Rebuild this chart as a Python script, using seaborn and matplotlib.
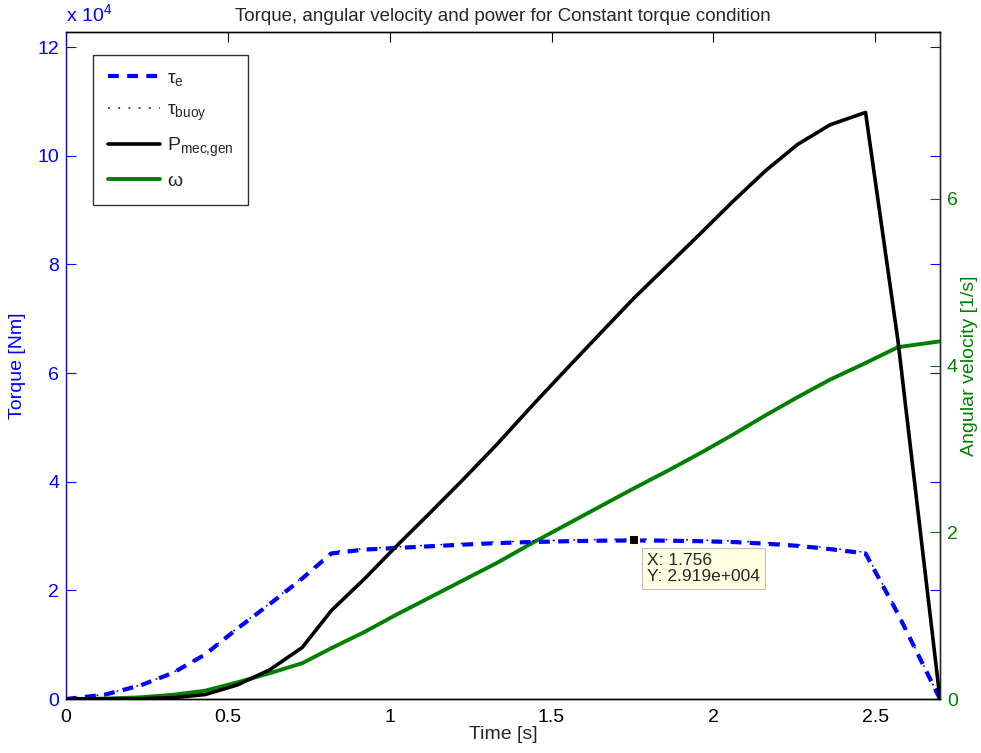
import matplotlib
matplotlib.use("Agg")
import matplotlib.pyplot as plt
import numpy as np
import pandas as pd
import seaborn as sns
from matplotlib.lines import Line2D
from matplotlib.ticker import FuncFormatter

# time samples [s]
time_s = [0, 0.12, 0.23, 0.33, 0.43, 0.53, 0.63, 0.73, 0.82, 0.92, 1.02, 1.12, 1.22, 1.33,
          1.44, 1.55, 1.66, 1.756, 1.86, 1.96, 2.06, 2.16, 2.26, 2.36, 2.47, 2.57, 2.70]
# generator torque and buoy torque [Nm]
tau_e = [0, 800, 2500, 4800, 8200, 13000, 17500, 22200, 26800, 27500, 27800, 28100, 28400, 28700,
         28900, 29050, 29150, 29190, 29150, 29050, 28900, 28600, 28200, 27600, 26800, 15700, 0]
tau_buoy = [0, 850, 2550, 4850, 8300, 13100, 17600, 22400, 27100, 27700, 28000, 28300, 28600, 28900,
            29100, 29250, 29350, 29400, 29350, 29250, 29100, 28800, 28400, 27800, 27000, 15900, 0]
# mechanical power of generator [W]
p_mec = [0, 10, 50, 240, 820, 2600, 5400, 9500, 16300, 22000, 28100, 34000, 40000, 46800,
         54000, 61000, 67900, 73900, 79900, 85700, 91600, 97200, 102100, 105700, 108000, 66000, 0]
# angular velocity [1/s]
omega = [0, 0.005, 0.02, 0.05, 0.1, 0.2, 0.31, 0.43, 0.61, 0.80, 1.01, 1.21, 1.41, 1.63,
         1.87, 2.10, 2.33, 2.53, 2.74, 2.95, 3.17, 3.40, 3.62, 3.83, 4.03, 4.22, 4.29]

tip_x = 1.756
tip_y = 2.919e4

df = pd.DataFrame({"t": time_s, "tau_e": tau_e, "tau_buoy": tau_buoy, "p": p_mec, "w": omega})

sns.set_style("white")
plt.rcParams['font.family'] = ['Liberation Sans', 'DejaVu Sans']
plt.rcParams['mathtext.default'] = 'regular'

blue = (0, 0, 1)
green = (0, 0.5, 0)

fig = plt.figure(figsize=(9.81, 7.53), dpi=100)
ax = fig.add_axes([66 / 981, 54 / 753, 874 / 981, 667 / 753])
ax2 = ax.twinx()

sns.lineplot(data=df, x="t", y="tau_e", ax=ax, color=blue, lw=3, sort=False)
ax.lines[-1].set_dashes((2.6, 2.0))
sns.lineplot(data=df, x="t", y="tau_buoy", ax=ax, color=blue, lw=1.1, sort=False)
ax.lines[-1].set_dashes((1.2, 5.5))
sns.lineplot(data=df, x="t", y="p", ax=ax, color="black", lw=2.6, sort=False)
sns.lineplot(data=df, x="t", y="w", ax=ax2, color=green, lw=2.8, sort=False)

ax.set_xlim(0, 2.7)
ax.set_ylim(0, 12.28e4)
ax2.set_ylim(0, 8)
ax.set_xticks([0, 0.5, 1, 1.5, 2, 2.5])
ax.set_xticklabels(["0", "0.5", "1", "1.5", "2", "2.5"])
ax.set_yticks(np.arange(0, 12.1e4, 2e4))
ax.yaxis.set_major_formatter(FuncFormatter(lambda v, p: f"{v / 1e4:g}"))
ax2.set_yticks([0, 2, 4, 6])

ax.tick_params(axis="x", direction="in", top=True, length=7, labelsize=14, colors="black", pad=7)
ax.tick_params(axis="y", direction="in", right=True, length=7, labelsize=14, colors=blue, pad=5)
ax2.tick_params(axis="y", direction="in", length=7, labelsize=14, colors=green, pad=5)

for a in (ax, ax2):
    for s in a.spines.values():
        s.set_linewidth(1.0)
ax.spines["left"].set_color(blue)
ax.spines["top"].set_color("black")
ax.spines["bottom"].set_color("black")
ax2.spines["right"].set_color("#1f5a7a")
ax2.spines["left"].set_visible(False)

ax.set_xlabel("Time [s]", fontsize=14, labelpad=0)
ax.set_ylabel("Torque [Nm]", fontsize=14, color=blue, labelpad=8)
ax2.set_ylabel("Angular velocity [1/s]", fontsize=14, color=green, labelpad=2)
ax.set_title("Torque, angular velocity and power for Constant torque condition", fontsize=13.5, pad=8)
ax.text(0, 1.01, r"x 10$^{4}$", transform=ax.transAxes, color=blue, fontsize=14, ha="left", va="bottom")

# data tip
ax.plot([tip_x], [tip_y], marker="s", color="black", ms=7, mec=(1, 1, 0.85), mew=1.5, zorder=5)
ax.annotate(f"X: {tip_x}\nY: 2.919e+004", xy=(tip_x, tip_y), xytext=(9, -9), textcoords="offset points",
            fontsize=12.5, va="top", ha="left", linespacing=1.05,
            bbox=dict(boxstyle="square,pad=0.3", fc="#ffffe1", ec="#c0c0c0", lw=0.8), zorder=6)

handles = [
    Line2D([], [], color=blue, lw=3, dashes=(2.6, 2.0)),
    Line2D([], [], color=blue, lw=1.1, dashes=(1.2, 5.5)),
    Line2D([], [], color="black", lw=2.6),
    Line2D([], [], color=green, lw=2.8),
]
labels = ["τ$_{e}$", "τ$_{buoy}$", "P$_{mec{,}gen}$", "ω"]
leg = ax.legend(handles, labels, loc="upper left", bbox_to_anchor=(0.031, 0.966), borderaxespad=0,
                fontsize=14, frameon=True, fancybox=False, edgecolor="black", handlelength=2.7,
                handletextpad=0.35, labelspacing=0.68, borderpad=0.75)
leg.get_frame().set_linewidth(1.0)
ax.set_zorder(ax2.get_zorder() + 1)
ax.patch.set_visible(False)

fig.savefig("out.png", dpi=100)
